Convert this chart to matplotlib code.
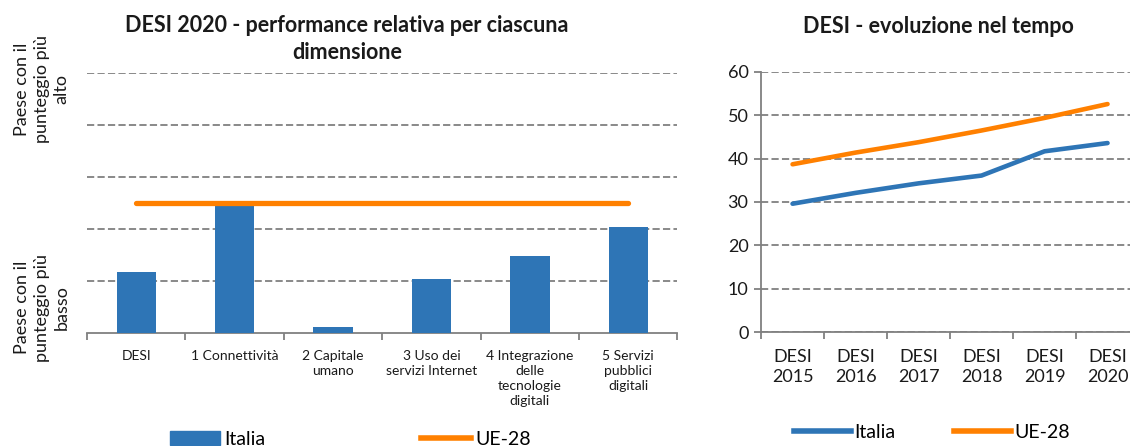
import numpy as np
import matplotlib.pyplot as plt
from matplotlib.patches import Patch
from matplotlib.lines import Line2D

plt.rcParams['font.family'] = ['Lato', 'DejaVu Sans']

# data - left chart (relative performance, 0 = lowest, 1 = highest)
dimensions = ['DESI', '1 Connettività', '2 Capitale\numano', '3 Uso dei\nservizi Internet',
              '4 Integrazione\ndelle\ntecnologie\ndigitali', '5 Servizi\npubblici\ndigitali']
italia_rel = [0.235, 0.49, 0.023, 0.207, 0.296, 0.408]
ue_rel = [0.50, 0.50, 0.50, 0.50, 0.50, 0.50]

# data - right chart
years = ['DESI\n2015', 'DESI\n2016', 'DESI\n2017', 'DESI\n2018', 'DESI\n2019', 'DESI\n2020']
italia_desi = [29.6, 32.1, 34.3, 36.1, 41.7, 43.6]
ue_desi = [38.7, 41.4, 43.8, 46.5, 49.4, 52.6]

blue = '#2E75B6'
orange = '#FF8000'
grey = '#808080'
txt = '#1a1a1a'
dash = (0, (4, 1.8))

fig = plt.figure(figsize=(11.3, 4.46), dpi=100)

# left chart
ax1 = fig.add_axes([0.077, 0.2534, 0.5225, 0.583])
x = np.arange(len(dimensions))
ax1.bar(x, italia_rel, width=0.4, color=blue, zorder=3)
ax1.plot(x, ue_rel, color=orange, lw=3.8, solid_capstyle='round', zorder=4)
ax1.set_xlim(-0.5, len(dimensions) - 0.5)
ax1.set_ylim(0, 1)
ax1.set_yticks([0.2, 0.4, 0.6, 0.8, 1.0])
ax1.yaxis.grid(True, ls=dash, color=grey, lw=1.3, zorder=0)
ax1.tick_params(axis='y', length=0, labelleft=False)
ax1.set_xticks(x)
ax1.set_xticklabels(dimensions, fontsize=10, color=txt, linespacing=1.3, va='top')
ax1.set_xticks(np.arange(-0.5, len(dimensions)), minor=True)
ax1.tick_params(axis='x', which='major', length=0, pad=12)
ax1.tick_params(axis='x', which='minor', length=5, width=1.3, color=grey, direction='out')
for s in ['top', 'right', 'left']:
    ax1.spines[s].set_visible(False)
ax1.spines['bottom'].set_color(grey)
ax1.spines['bottom'].set_linewidth(1.3)
ax1.set_title('DESI 2020 - performance relativa per ciascuna\ndimensione', fontsize=15.5,
              fontweight='bold', color=txt, x=0.44, pad=10, linespacing=1.35)

fig.text(0.037, 0.80, 'Paese con il\npunteggio più\nalto', rotation=90, ha='center', va='center',
         fontsize=13, color=txt, linespacing=1.3)
fig.text(0.037, 0.31, 'Paese con il\npunteggio più\nbasso', rotation=90, ha='center', va='center',
         fontsize=13, color=txt, linespacing=1.3)

fig.legend(handles=[Patch(color=blue, label='Italia'),
                    Line2D([0], [0], color=orange, lw=4, label='UE-28')],
           loc='center', bbox_to_anchor=(0.31, 0.015), ncol=2, frameon=False,
           fontsize=14, columnspacing=8.0, handlelength=2.6, handletextpad=0.2)

# right chart
ax2 = fig.add_axes([0.6735, 0.2556, 0.3345, 0.583])
xr = np.arange(len(years))
ax2.plot(xr, italia_desi, color=blue, lw=3.3, solid_capstyle='round', zorder=3)
ax2.plot(xr, ue_desi, color=orange, lw=3.3, solid_capstyle='round', zorder=3)
ax2.set_xlim(-0.5, len(years) - 0.5)
ax2.set_ylim(0, 60)
ax2.set_yticks(np.arange(0, 61, 10))
ax2.yaxis.grid(True, ls=dash, color=grey, lw=1.3, zorder=0)
ax2.tick_params(axis='y', length=5, width=1.3, color=grey, labelsize=13, labelcolor=txt, pad=4)
ax2.set_xticks(xr)
ax2.set_xticklabels(years, fontsize=13, color=txt, linespacing=1.3)
ax2.set_xticks(np.arange(-0.5, len(years)), minor=True)
ax2.tick_params(axis='x', which='major', length=0, pad=12)
ax2.tick_params(axis='x', which='minor', length=5, width=1.3, color=grey, direction='out')
for s in ['top', 'right']:
    ax2.spines[s].set_visible(False)
for s in ['bottom', 'left']:
    ax2.spines[s].set_color(grey)
    ax2.spines[s].set_linewidth(1.3)
ax2.set_title('DESI - evoluzione nel tempo', fontsize=15.5, fontweight='bold', color=txt,
              x=0.47, y=1.0, pad=28)

fig.legend(handles=[Line2D([0], [0], color=blue, lw=4, label='Italia'),
                    Line2D([0], [0], color=orange, lw=4, label='UE-28')],
           loc='center', bbox_to_anchor=(0.825, 0.03), ncol=2, frameon=False,
           fontsize=14, columnspacing=3.0, handlelength=2.9, handletextpad=0.2)

fig.savefig('out.png', dpi=100)
